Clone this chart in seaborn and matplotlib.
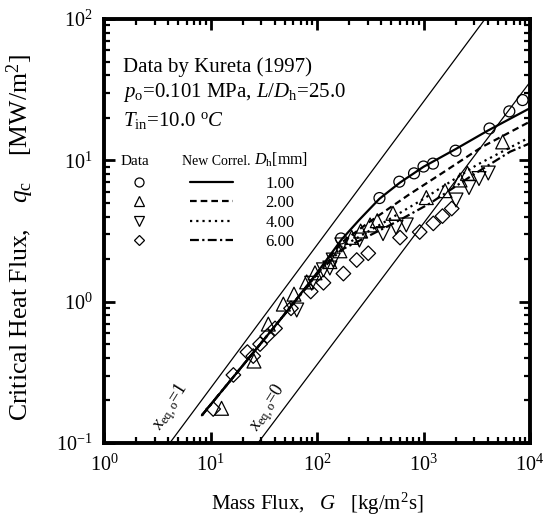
import matplotlib
matplotlib.use("Agg")
import matplotlib.pyplot as plt
import seaborn as sns
from matplotlib.lines import Line2D
from matplotlib.ticker import LogLocator, NullFormatter

# CHF data, Kureta (1997): mass flux G [kg/m2s], critical heat flux q [MW/m2]
G_d1 = [168, 386, 593, 815, 1000, 1227, 1997, 4170, 6395, 8510]
q_d1 = [2.80, 5.41, 7.06, 8.09, 9.04, 9.48, 11.7, 16.8, 22.2, 26.7]

G_d2 = [12.7, 25.6, 34.9, 48.3, 60.8, 80.0, 95.8, 132, 164, 212, 257, 315,
        368, 517, 1063, 1592, 2203, 2588, 5540]
q_d2 = [0.176, 0.380, 0.694, 0.961, 1.13, 1.38, 1.60, 1.92, 2.29, 2.85, 3.16,
        3.49, 3.74, 4.22, 5.45, 6.10, 7.26, 8.09, 13.5]

G_d4 = [64.5, 89.2, 115, 132, 142, 171, 250, 417, 552, 689, 2019, 2675, 3320,
        4057]
q_d4 = [0.873, 1.35, 1.68, 1.73, 1.97, 2.52, 2.73, 3.03, 3.36, 3.49, 5.24,
        6.42, 7.43, 8.13]

G_d6 = [10.6, 16.4, 22.2, 25.2, 29.2, 34.1, 40.4, 57.0, 87.3, 115, 177, 236,
        303, 602, 921, 1236, 1507, 1841]
q_d6 = [0.174, 0.303, 0.440, 0.412, 0.501, 0.571, 0.647, 0.897, 1.18, 1.36,
        1.58, 1.97, 2.20, 2.84, 3.11, 3.58, 4.03, 4.56]

# new correlation curves for each hydraulic diameter
G_c1 = [8.3, 20, 50, 100, 170, 250, 386, 600, 1000, 2000, 4000, 10000]
q_c1 = [0.157, 0.352, 0.82, 1.60, 2.75, 3.80, 5.35, 6.95, 9.0, 12.0, 16.2, 23.4]
G_c2 = [8.3, 20, 50, 100, 168, 300, 720, 1500, 3517, 10000]
q_c2 = [0.157, 0.352, 0.82, 1.58, 2.60, 3.60, 5.68, 8.13, 12.4, 18.8]
G_c4 = [8.3, 20, 50, 100, 168, 400, 927, 3160, 10000]
q_c4 = [0.157, 0.352, 0.82, 1.57, 2.43, 3.54, 5.15, 9.27, 14.6]
G_c6 = [8.3, 20, 50, 100, 168, 560, 1151, 2734, 6490, 10000]
q_c6 = [0.157, 0.352, 0.82, 1.56, 2.32, 3.68, 4.96, 7.65, 11.5, 13.2]

# heat balance limits: outlet quality x_eq,o = 1 and x_eq,o = 0
G_x1 = [4.15, 3780]
q_x1 = [0.1, 100]
G_x0 = [27.9, 10000]
q_x0 = [0.1, 35.8]

diam_labels = ["1.00", "2.00", "4.00", "6.00"]

sns.set_theme(style="ticks")
plt.rcParams.update({
    "font.family": ["Liberation Serif", "DejaVu Serif"],
    "mathtext.fontset": "custom",
    "mathtext.rm": "Liberation Serif",
    "mathtext.it": "Liberation Serif:italic",
    "mathtext.bf": "Liberation Serif:bold",
    "axes.linewidth": 2.8,
    "axes.edgecolor": "black",
    "text.color": "black",
    "axes.labelcolor": "black",
    "xtick.color": "black",
    "ytick.color": "black",
})

fig = plt.figure(figsize=(5.48, 5.21), dpi=100)
ax = fig.add_axes([104 / 548, 1 - 443 / 521, 426 / 548, 424 / 521])
ax.set_xscale("log")
ax.set_yscale("log")

# reference lines
sns.lineplot(x=G_x1, y=q_x1, color="black", lw=0.9, estimator=None, sort=False, ax=ax)
sns.lineplot(x=G_x0, y=q_x0, color="black", lw=0.9, estimator=None, sort=False, ax=ax)

# correlation curves
line_styles = ["-", (0, (3.0, 1.8)), (0, (1.0, 1.8)), (0, (4.0, 1.5, 1.0, 1.5))]
curves = [(G_c1, q_c1), (G_c2, q_c2), (G_c4, q_c4), (G_c6, q_c6)]
for (gx, qy), ls in zip(curves, line_styles):
    sns.lineplot(x=gx, y=qy, color="black", lw=1.6, linestyle=ls,
                 estimator=None, sort=False, ax=ax)

# measured points
markers = ["o", "^", "v", "D"]
sizes = [62, 100, 100, 55]
datasets = [(G_d1, q_d1), (G_d2, q_d2), (G_d4, q_d4), (G_d6, q_d6)]
for (gx, qy), m, s in zip(datasets, markers, sizes):
    sns.scatterplot(x=gx, y=qy, marker=m, s=s, facecolors="none",
                    edgecolors="black", linewidths=0.9, ax=ax, zorder=3)

ax.set_xlim(1, 1e4)
ax.set_ylim(0.1, 100)

ax.xaxis.set_major_locator(LogLocator(base=10, numticks=10))
ax.yaxis.set_major_locator(LogLocator(base=10, numticks=10))
ax.xaxis.set_minor_locator(LogLocator(base=10, subs=range(2, 10), numticks=20))
ax.yaxis.set_minor_locator(LogLocator(base=10, subs=range(2, 10), numticks=20))
ax.xaxis.set_minor_formatter(NullFormatter())
ax.yaxis.set_minor_formatter(NullFormatter())
ax.tick_params(which="both", direction="in", top=True, right=True,
               labelsize=14.5, pad=8)
ax.tick_params(which="major", length=8, width=2.0)
ax.tick_params(which="minor", length=4.5, width=1.6)
for sp in ax.spines.values():
    sp.set_visible(True)
    sp.set_linewidth(2.8)

ax.set_xlabel(r"Mass Flux,   $G$   [kg/m$^2$s]", fontsize=15)
ax.set_ylabel(r"Critical Heat Flux,    $q_{\rm c}$    [MW/m$^2$]", fontsize=18.5)
ax.xaxis.set_label_coords(0.5, -0.112)
ax.yaxis.set_label_coords(-0.16, 0.485)

# condition annotations
ax.text(0.045, 0.875, "Data by Kureta (1997)", transform=ax.transAxes,
        fontsize=15, va="baseline")
ax.text(0.045, 0.816, r"$p_{\rm o}$=0.101 MPa, $L/D_{\rm h}$=25.0",
        transform=ax.transAxes, fontsize=15, va="baseline")
ax.text(0.045, 0.748, r"$T_{\rm in}$=10.0 $^{\rm o}C$",
        transform=ax.transAxes, fontsize=15, va="baseline")

# key: data symbols, correlation lines, hydraulic diameter
ax.text(0.038, 0.656, "Data", transform=ax.transAxes, fontsize=11, va="baseline")
ax.text(0.182, 0.656, "New Correl.", transform=ax.transAxes, fontsize=10,
        va="baseline")
ax.text(0.352, 0.656, r"$D_{\rm h}$[mm]", transform=ax.transAxes, fontsize=11.5,
        va="baseline")

mk_handles = [Line2D([], [], ls="none", marker=m, ms=6.5 if m != "D" else 5,
                     mfc="none", mec="black", mew=0.9) for m in markers]
ln_handles = [Line2D([], [], color="black", lw=1.6, ls=ls) for ls in line_styles]
fs_key = 12
ax.legend(mk_handles + ln_handles, [""] * 4 + diam_labels, ncol=2,
          loc="upper left", bbox_to_anchor=(0.033, 0.630), frameon=False,
          fontsize=fs_key, handlelength=42.6 / 16.7, handletextpad=33.0 / 16.7,
          columnspacing=-3.3 / 16.7, labelspacing=0.2, borderpad=0,
          borderaxespad=0)

# quality limit labels
ax.text(0.157, 0.085, r"$x_{\rm eq,o}$=1", transform=ax.transAxes, fontsize=13,
        rotation=58, ha="center", va="center")
ax.text(0.385, 0.083, r"$x_{\rm eq,o}$=0", transform=ax.transAxes, fontsize=13,
        rotation=58, ha="center", va="center")

fig.savefig("out.png", dpi=100)
